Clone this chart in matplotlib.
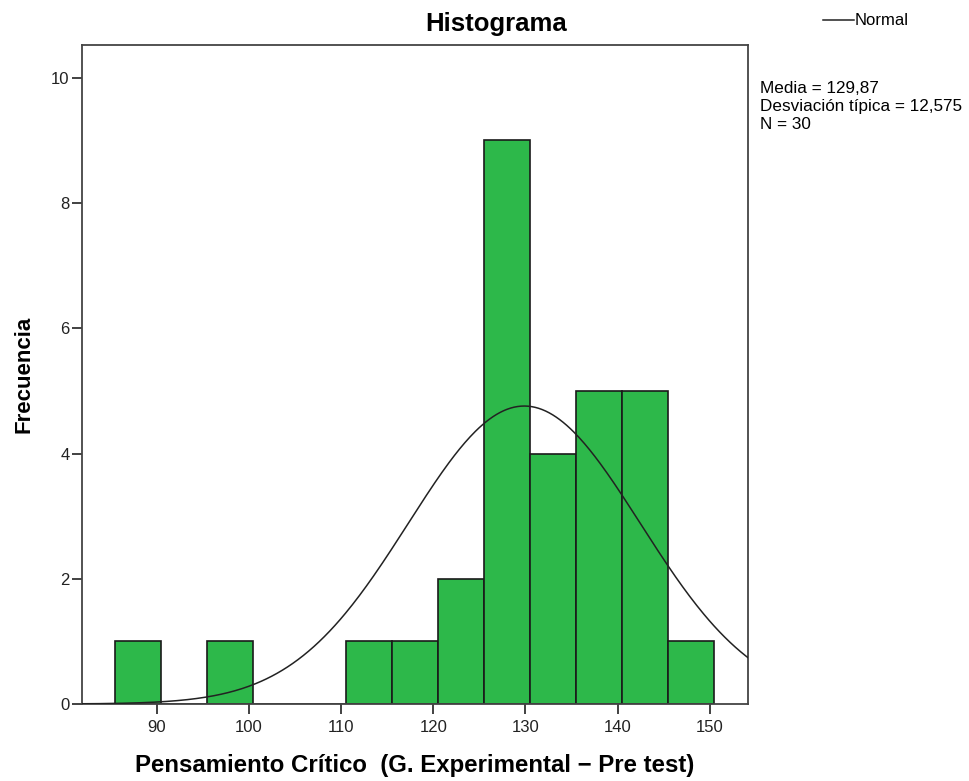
"""
histogram of critical thinking scores (experimental group, pre test)
"""
import numpy as np
import matplotlib.pyplot as plt

plt.rcParams['font.family'] = ['Liberation Sans', 'DejaVu Sans']

bin_edges = [85.5, 90.5, 95.5, 100.5, 105.5, 110.5, 115.5, 120.5, 125.5,
             130.5, 135.5, 140.5, 145.5, 150.5]
counts = [1, 0, 1, 0, 0, 1, 1, 2, 9, 4, 5, 5, 1]
media = 129.87
desv = 12.575
n = 30

fig = plt.figure(figsize=(9.7, 7.81), dpi=100)
ax = fig.add_axes([0.0845, 0.0986, 0.6863, 0.8442])

lefts = np.array(bin_edges[:-1])
widths = np.diff(bin_edges)
ax.bar(lefts, counts, width=widths, align='edge', color='#2db84a',
       edgecolor='#1a1a1a', linewidth=1.2, zorder=2)

# curva normal escalada a frecuencias
xs = np.linspace(80, 156, 400)
bw = widths[0]
ys = n * bw * np.exp(-0.5 * ((xs - media) / desv) ** 2) / (desv * np.sqrt(2 * np.pi))
ax.plot(xs, ys, color='#222222', linewidth=1.1, zorder=3)

ax.set_xlim(81.9, 154.1)
ax.set_ylim(0, 10.53)
ax.set_xticks([90, 100, 110, 120, 130, 140, 150])
ax.set_yticks([0, 2, 4, 6, 8, 10])
ax.tick_params(axis='both', labelsize=12, length=7.5, width=1.3, color='#333333',
               labelcolor='#222222', direction='out')
ax.tick_params(axis='y', pad=1.5)
ax.tick_params(axis='x', pad=4)
for s in ax.spines.values():
    s.set_linewidth(1.3)
    s.set_color('#444444')

# el titulo va centrado en toda la figura, no en los ejes
fig.text(0.511, 1 - 24 / 781, 'Histograma', fontsize=18.5, fontweight='bold',
         ha='center', va='center')
ax.set_xlabel('Pensamiento Crítico  (G. Experimental \u2212 Pre test)',
              fontsize=17.3, fontweight='bold', labelpad=14)
ax.set_ylabel('Frecuencia', fontsize=16, fontweight='bold', labelpad=12)

# leyenda y estadisticos
fig.add_artist(plt.Line2D([0.848, 0.880], [0.974, 0.974], color='#222222',
                          linewidth=1.1))
fig.text(0.881, 0.974, 'Normal', fontsize=12, va='center', ha='left')
fig.text(0.783, 0.896,
         'Media = 129,87\nDesviación típica = 12,575\nN = 30',
         fontsize=12.3, va='top', ha='left', linespacing=1.22)

fig.savefig('out.png', dpi=100, facecolor='white')
